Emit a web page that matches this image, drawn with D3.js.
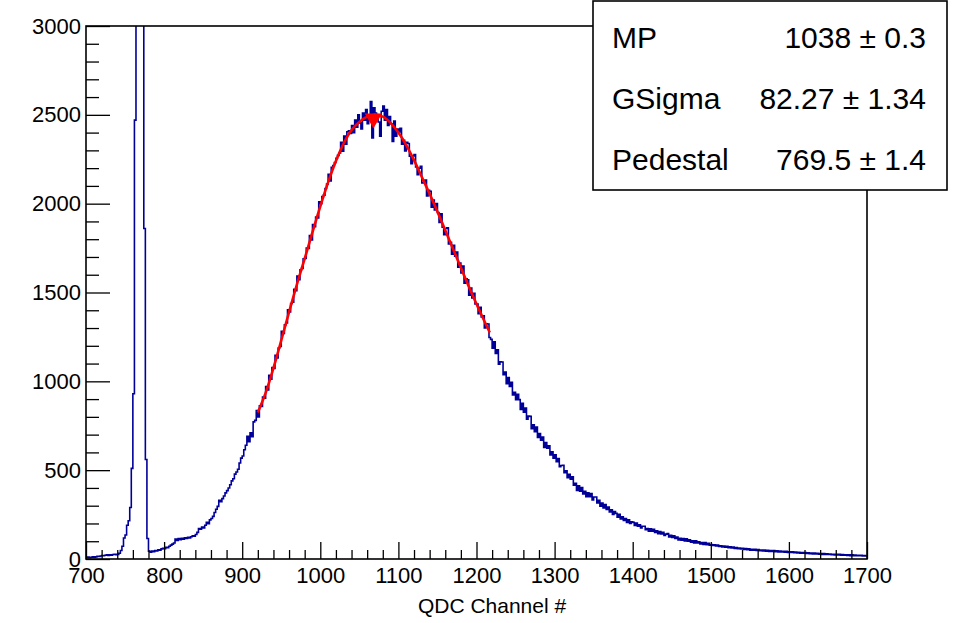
<!DOCTYPE html>
<html><head><meta charset="utf-8">
<script src="https://cdn.jsdelivr.net/npm/d3@7"></script>
<style>
html,body{margin:0;padding:0;background:#fff;}
svg{display:block;font-family:"Liberation Sans",Arial,Helvetica,sans-serif;}
</style></head><body>
<svg id="c" width="955" height="623"></svg>
<script>
// ---- data (counts per 2-channel bin) ----
const binWidth = 2;
const c700 = [9,11,8,10,13,10,12,15,14,17,20,18,21,24,20,23,21,25,27,24,26,32,48,72,118,135,190,215,290,510,930,2470,4800,6900,7400,6600,4600,1860,560,115,44,38,45,41,48,46,52,49,57,60];
const c800 = [58,66,63,72,78,84,90,112,104,115,108,117,112,120,115,122,118,125,130,128,138,150,172,168,180,175,190,206,198,220,228,240,262,280,296,330,322,340,355,372,385,400,418,440,452,478,490,505,540,568];
const c900 = [580,615,640,690,660,710,688,772,780,836,800,862,858,912,905,970,952,1034,1012,1078,1072,1146,1132,1188,1196,1282,1270,1318,1328,1402,1390,1438,1445,1518,1510,1592,1572,1628,1636,1690,1692,1750,1748,1820,1796,1882,1870,1924,1920,2010];
const c1000 = [2000,2040,2048,2085,2110,2165,2128,2205,2215,2232,2255,2272,2285,2345,2296,2380,2335,2405,2410,2395,2440,2400,2470,2430,2500,2455,2420,2510,2470,2530,2450,2500,2575,2370,2540,2510,2500,2460,2380,2520,2550,2470,2530,2440,2490,2450,2350,2465,2380,2420];
const c1100 = [2403,2424,2335,2356,2297,2346,2339,2267,2225,2268,2276,2207,2163,2199,2210,2116,2117,2133,2044,2075,2070,1980,2020,1965,2000,1950,1894,1943,1867,1826,1860,1864,1773,1782,1716,1765,1704,1728,1642,1666,1610,1649,1553,1577,1571,1485,1525,1470,1495,1435];
const c1200 = [1435,1381,1417,1363,1369,1300,1324,1323,1247,1236,1187,1222,1157,1177,1097,1110,1109,1038,1052,986,1022,971,995,924,938,897,927,897,842,877,826,849,787,805,803,733,755,716,742,684,706,668,686,628,655,623,637,585,604,568];
const c1300 = [586,548,566,519,526,528,486,497,458,477,449,462,415,426,386,412,382,402,366,381,351,373,351,368,333,349,349,316,331,297,315,287,307,279,293,265,277,251,267,257,235,252,226,238,217,227,206,220,200,210];
const c1400 = [206,189,202,185,193,175,184,184,165,171,157,170,157,167,150,159,143,155,141,150,133,140,143,124,134,121,131,116,123,107,116,106,115,101,113,100,108,95,102,91,102,91,97,85,93,82,92,81,88,77];
const c1500 = [82,76,80,73,78,71,75,68,73,67,71,64,69,62,67,60,65,58,62,56,60,54,59,52,57,50,55,49,54,48,53,47,51,45,50,44,49,43,48,42,47,41,46,40,45,39,44,38,43,37];
const c1600 = [41,37,40,36,39,34,38,33,37,32,36,31,35,30,34,29,33,28,32,27,31,26,30,25,29,25,28,24,27,23,27,23,26,22,25,21,24,20,24,19,23,19,22,18,21,18,21,17,20,17];

// fit curve (red)
const fitChannels = [920,930,940,950,960,970,980,990,1000,1010,1020,1030,1040,1050,1060,1070,1080,1090,1100,1110,1120,1130,1140,1150,1160,1170,1180,1190,1200,1210,1217];
const fitCounts = [825,935,1075,1230,1390,1545,1690,1840,1985,2120,2240,2340,2415,2460,2490,2500,2490,2455,2400,2330,2245,2150,2055,1955,1850,1745,1640,1535,1435,1340,1275];
const peakMarker = [1068, 2480];

const xDomain = [700, 1700];
const yDomain = [0, 3000];
const xMajorTicks = [700,800,900,1000,1100,1200,1300,1400,1500,1600,1700];
const yMajorTicks = [0,500,1000,1500,2000,2500,3000];
const xTitle = "QDC Channel #";
const statNames = ["MP","GSigma","Pedestal"];
const statValues = ["1038 \u00b1 0.3","82.27 \u00b1 1.34","769.5 \u00b1 1.4"];

// ---- drawing ----
const counts = [].concat(c700,c800,c900,c1000,c1100,c1200,c1300,c1400,c1500,c1600);
const L = 86, R = 867, T = 26, B = 559;
const svg = d3.select("#c");
const x = d3.scaleLinear().domain(xDomain).range([L, R]);
const y = d3.scaleLinear().domain(yDomain).range([B, T]);

svg.append("defs").append("clipPath").attr("id","clip")
  .append("rect").attr("x",L).attr("y",T).attr("width",R-L).attr("height",B-T);

// histogram (step)
const pts = counts.map((c,i)=>[xDomain[0]+i*binWidth, c]);
pts.push([xDomain[0]+counts.length*binWidth, counts[counts.length-1]]);
svg.append("path")
  .attr("clip-path","url(#clip)")
  .attr("d", d3.line().x(d=>x(d[0])).y(d=>y(Math.min(d[1],3100))).curve(d3.curveStepAfter)(pts))
  .attr("fill","none").attr("stroke","#000099").attr("stroke-width",1.6);

// fit
const fitPts = fitChannels.map((c,i)=>[c, fitCounts[i]]);
svg.append("path")
  .attr("d", d3.line().x(d=>x(d[0])).y(d=>y(d[1])).curve(d3.curveMonotoneX)(fitPts))
  .attr("fill","none").attr("stroke","#ff0000").attr("stroke-width",2.6);
svg.append("path")
  .attr("d", d3.symbol().type(d3.symbolTriangle).size(130)())
  .attr("transform", `translate(${x(peakMarker[0])},${y(peakMarker[1])}) rotate(180)`)
  .attr("fill","#ff0000");

// frame
svg.append("rect").attr("x",L).attr("y",T).attr("width",R-L).attr("height",B-T)
  .attr("fill","none").attr("stroke","#000").attr("stroke-width",1.6);

// axes
const xMinor = d3.range(700,1701,20).filter(v=>v%100!==0);
const yMinor = d3.range(0,3001,100).filter(v=>v%500!==0);
function styleAxis(g){ g.select(".domain").remove(); g.selectAll("line").attr("stroke","#000").attr("stroke-width",1.3); }

svg.append("g").attr("transform",`translate(0,${B})`)
  .call(d3.axisBottom(x).tickValues(xMajorTicks).tickSize(-17).tickPadding(7).tickFormat(d3.format("d")))
  .call(styleAxis)
  .call(g=>g.selectAll("text").attr("font-size",22).attr("font-family","Liberation Sans, Arial, sans-serif").attr("fill","#000").attr("y",6).attr("dy","0.8em"));
svg.append("g").attr("transform",`translate(0,${B})`)
  .call(d3.axisBottom(x).tickValues(xMinor).tickSize(-9).tickFormat(""))
  .call(styleAxis);

svg.append("g").attr("transform",`translate(${L},0)`)
  .call(d3.axisLeft(y).tickValues(yMajorTicks).tickSize(-24).tickPadding(5).tickFormat(d3.format("d")))
  .call(styleAxis)
  .call(g=>g.selectAll("text").attr("font-size",22).attr("font-family","Liberation Sans, Arial, sans-serif").attr("fill","#000").attr("x",-5));
svg.append("g").attr("transform",`translate(${L},0)`)
  .call(d3.axisLeft(y).tickValues(yMinor).tickSize(-13).tickFormat(""))
  .call(styleAxis);

// x title
svg.append("text").attr("x",492).attr("y",613).attr("text-anchor","middle")
  .attr("font-size",21).text(xTitle);

// stats box
const box = svg.append("g");
box.append("rect").attr("x",593).attr("y",1).attr("width",354).attr("height",189)
  .attr("fill","#fff").attr("stroke","#000").attr("stroke-width",1.6);
statNames.forEach((n,i)=>{
  const yy = 48 + i*61;
  box.append("text").attr("x",612).attr("y",yy).attr("font-size",30).text(n);
  box.append("text").attr("x",926).attr("y",yy).attr("font-size",30).attr("text-anchor","end").text(statValues[i]);
});
</script>
</body></html>
